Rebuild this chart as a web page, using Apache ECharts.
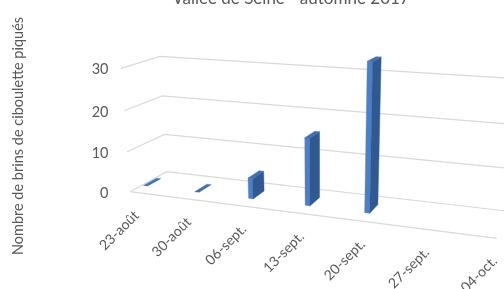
<!DOCTYPE html>
<html><head><meta charset="utf-8">
<script src="https://cdn.jsdelivr.net/npm/echarts@6/dist/echarts.min.js"></script>
<style>html,body{margin:0;padding:0;background:#fff}#c{width:504px;height:289px}</style>
</head><body><div id="c"></div>
<script>
// ---- data ----
const titleText = 'Vallée de Seine - automne 2017';
const yAxisName = 'Nombre de brins de ciboulette piqués';
const categories = ['23-août', '30-août', '06-sept.', '13-sept.', '20-sept.', '27-sept.', '04-oct.'];
const dayOffsets = [0, 7, 14, 21, 28, 35, 42];
const values = [0, 0, 5, 16, 34, null, null];
const yTicks = [0, 10, 20, 30];
const dayCount = 43;
const yMax = 30;

// ---- 3D perspective (layout only) ----
const PX = [6.8257, -0.48177, 49.104, 130];
const PY = [0.26754, -4.2159, -7.2168, 191.7];
const PW = [-0.00343, -0.0015057, 0.0744, 1];
function proj(X, Y, Z) {
  const w = PW[0] * X + PW[1] * Y + PW[2] * Z + PW[3];
  return [(PX[0] * X + PX[1] * Y + PX[2] * Z + PX[3]) / w,
          (PY[0] * X + PY[1] * Y + PY[2] * Z + PY[3]) / w];
}
function toWorld(api, x, y) {
  const p = api.coord([x, y]);
  const a = api.coord([0, 0]);
  const b = api.coord([dayCount, yMax]);
  return [(p[0] - a[0]) / (b[0] - a[0]) * dayCount, (p[1] - a[1]) / (b[1] - a[1]) * yMax];
}
const barHalf = 0.29, zFront = 0.31, zBack = 0.67;
const FONT = 'Lato, "Open Sans", sans-serif';
const TXT = '#595959';
const GRID = '#d9d9d9';

const barData = [];
values.forEach((v, i) => { if (v !== null) barData.push([dayOffsets[i] + 0.5, v]); });
const catData = categories.map((c, i) => [dayOffsets[i] + 0.5, 0, c]);
const tickData = yTicks.map(t => [0, t]);

const chart = echarts.init(document.getElementById('c'), null, {renderer: 'canvas'});
chart.setOption({
  animation: false,
  grid: {left: 0, right: 0, top: 0, bottom: 0, show: false},
  xAxis: {type: 'value', min: 0, max: dayCount, show: false},
  yAxis: {type: 'value', min: 0, max: yMax, show: false},
  graphic: [
    {type: 'text', x: 291, y: -1, style: {text: titleText, font: '17px ' + FONT, fill: TXT, align: 'center', verticalAlign: 'middle'}},
    {type: 'text', x: 18.5, y: 136, rotation: Math.PI / 2, style: {text: yAxisName, font: '14.5px ' + FONT, fill: TXT, align: 'center', verticalAlign: 'middle'}}
  ],
  series: [
    { // gridlines on side wall + back wall
      type: 'custom', coordinateSystem: 'cartesian2d', silent: true, z: 1,
      data: tickData,
      renderItem: function (params, api) {
        const w = toWorld(api, api.value(0), api.value(1));
        const end = toWorld(api, dayCount, api.value(1));
        const pts = [proj(0, w[1], 0), proj(0, w[1], 1), proj(end[0], w[1], 1)];
        return {type: 'polyline', shape: {points: pts}, style: {stroke: GRID, lineWidth: 1.2, fill: null}};
      }
    },
    { // floor front edge (category axis line)
      type: 'custom', coordinateSystem: 'cartesian2d', silent: true, z: 1,
      data: [[0, 0]],
      renderItem: function (params, api) {
        const a = toWorld(api, 0, 0), b = toWorld(api, dayCount, 0);
        return {type: 'polyline', shape: {points: [proj(a[0], a[1], 0), proj(b[0], b[1], 0)]}, style: {stroke: GRID, lineWidth: 1.2, fill: null}};
      }
    },
    { // value labels
      type: 'custom', coordinateSystem: 'cartesian2d', silent: true, z: 2,
      data: tickData,
      renderItem: function (params, api) {
        const w = toWorld(api, 0, api.value(1));
        const base = proj(0, 0, 0);
        const p = proj(0, w[1], 0);
        return {type: 'text', x: base[0] - 21.5, y: p[1] + 1.5,
          style: {text: String(api.value(1)), font: '14.5px ' + FONT, fill: TXT, align: 'right', verticalAlign: 'middle'}};
      }
    },
    { // category labels
      type: 'custom', coordinateSystem: 'cartesian2d', silent: true, z: 2,
      data: catData,
      renderItem: function (params, api) {
        const w = toWorld(api, api.value(0), 0);
        const p = proj(w[0], 0, 0);
        return {type: 'text', x: p[0] + 3, y: p[1] + 21, rotation: Math.PI / 4,
          style: {text: catData[params.dataIndex][2], font: '14px ' + FONT, fill: TXT, align: 'right', verticalAlign: 'middle'}};
      }
    },
    { // 3D bars
      type: 'custom', coordinateSystem: 'cartesian2d', z: 3,
      data: barData,
      renderItem: function (params, api) {
        const xd = api.value(0), v = api.value(1);
        const X0 = toWorld(api, xd - barHalf, v)[0];
        const X1 = toWorld(api, xd + barHalf, v)[0];
        const Y1 = toWorld(api, xd, v)[1];
        const Y0 = toWorld(api, xd, 0)[1];
        const face = (pts, col) => ({type: 'polygon', shape: {points: pts}, style: {fill: col, stroke: col, lineWidth: 0.4}});
        const children = [];
        if (Y1 > Y0) {
          children.push(face([proj(X0, Y0, zFront), proj(X1, Y0, zFront), proj(X1, Y1, zFront), proj(X0, Y1, zFront)], '#4a80c8'));
          children.push(face([proj(X1, Y0, zFront), proj(X1, Y0, zBack), proj(X1, Y1, zBack), proj(X1, Y1, zFront)], '#32598f'));
        }
        children.push(face([proj(X0, Y1, zFront), proj(X1, Y1, zFront), proj(X1, Y1, zBack), proj(X0, Y1, zBack)], '#3f6fb2'));
        return {type: 'group', children: children};
      }
    }
  ]
});
</script>
</body></html>
